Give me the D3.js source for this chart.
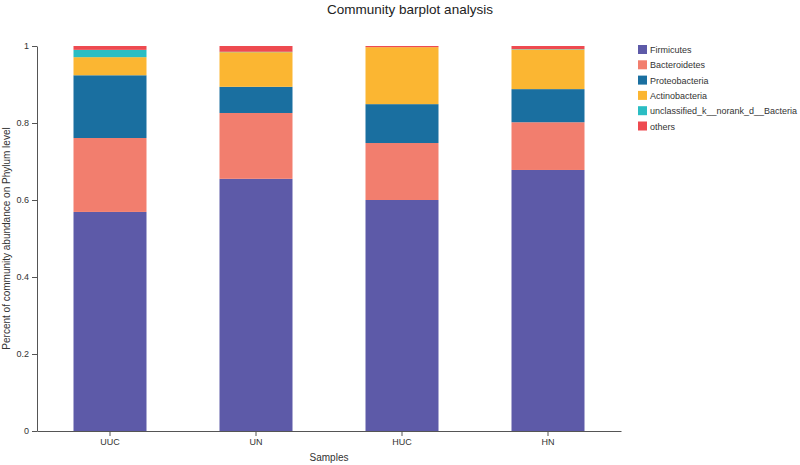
<!DOCTYPE html>
<html><head><meta charset="utf-8">
<script src="https://cdn.jsdelivr.net/npm/d3@7/dist/d3.min.js"></script>
<style>body{margin:0;background:#fff}svg{display:block;font-family:"Liberation Sans",Arial,sans-serif}</style>
</head><body><svg id="c" width="800" height="465"></svg>
<script>
const samples = ["UUC","UN","HUC","HN"];
const phyla = ["Firmicutes","Bacteroidetes","Proteobacteria","Actinobacteria","unclassified_k__norank_d__Bacteria","others"];
const colors = ["#5d5aa8","#f27e6e","#1a6fa0","#fbb632","#2bbdc3","#ee4a50"];
const firmicutes = [0.569,0.655,0.600,0.678];
const bacteroidetes = [0.192,0.171,0.148,0.124];
const proteobacteria = [0.163,0.068,0.101,0.086];
const actinobacteria = [0.047,0.090,0.148,0.103];
const unclassified = [0.019,0.001,0.000,0.001];
const others = [0.010,0.015,0.003,0.008];
const yTicks = [0,0.2,0.4,0.6,0.8,1];

const series = [firmicutes,bacteroidetes,proteobacteria,actinobacteria,unclassified,others];
const rows = samples.map((s,i)=>{const r={sample:s}; phyla.forEach((p,j)=>r[p]=series[j][i]); return r;});
const stack = d3.stack().keys(phyla)(rows);

const svg = d3.select("#c");
const m = {l:37, r:179, t:46, b:34};
const W = 800, H = 465;
const x = d3.scaleBand().domain(samples).range([m.l, W-m.r]).paddingInner(0.5).paddingOuter(0.25);
const y = d3.scaleLinear().domain([0,1]).range([H-m.b, m.t]);

svg.append("text").attr("x",410).attr("y",14).attr("text-anchor","middle").attr("font-size",13.5).attr("fill","#222").text("Community barplot analysis");

svg.append("g").selectAll("g").data(stack).join("g").attr("fill",(d,i)=>colors[i])
  .selectAll("rect").data(d=>d).join("rect")
  .attr("x",d=>x(d.data.sample)).attr("width",x.bandwidth())
  .attr("y",d=>y(d[1])).attr("height",d=>Math.max(0,y(d[0])-y(d[1])));

const ya = svg.append("g").attr("transform",`translate(${m.l},0)`).call(d3.axisLeft(y).tickValues(yTicks).tickFormat(d3.format("~g")).tickSize(5).tickSizeOuter(0));
const xa = svg.append("g").attr("transform",`translate(0,${H-m.b})`).call(d3.axisBottom(x).tickSize(5).tickSizeOuter(0));
[ya,xa].forEach(a=>{a.selectAll("path,line").attr("stroke","#555");a.selectAll("text").attr("fill","#333").attr("font-size",9).attr("font-family","Liberation Sans, Arial, sans-serif");});

svg.append("text").attr("transform",`translate(10,${(m.t+H-m.b)/2}) rotate(-90)`).attr("text-anchor","middle").attr("font-size",10).attr("fill","#333").text("Percent of community abundance on Phylum level");
svg.append("text").attr("x",(m.l+W-m.r)/2).attr("y",461).attr("text-anchor","middle").attr("font-size",10).attr("fill","#333").text("Samples");

const lg = svg.append("g").selectAll("g").data(phyla).join("g").attr("transform",(d,i)=>`translate(638,${45+i*15.3})`);
lg.append("rect").attr("width",9).attr("height",9).attr("fill",(d,i)=>colors[i]);
lg.append("text").attr("x",12).attr("y",8).attr("font-size",9).attr("fill","#333").text(d=>d);
</script></body></html>
